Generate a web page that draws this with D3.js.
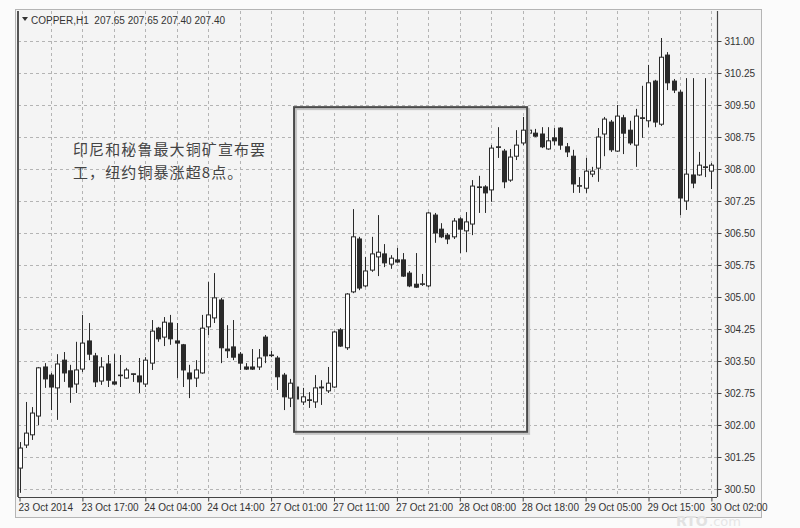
<!DOCTYPE html>
<html><head><meta charset="utf-8">
<script src="https://cdn.jsdelivr.net/npm/d3@7"></script>
<style>body{margin:0;background:#fbfbfb}svg{display:block}</style>
</head><body><svg id="c" width="800" height="528"></svg>
<script>
// ---- data (hourly COPPER candles) ----
const opens  = [300.99,301.53,301.77,302.21,303.36,303.17,302.87,303.52,303.27,302.96,
                303.31,303.97,303.62,303.03,303.43,303.01,303.17,303.10,303.20,303.15,
                302.96,303.45,304.27,304.06,304.39,303.97,303.88,303.22,303.10,303.22,
                304.30,304.51,304.93,303.78,303.83,303.66,303.36,303.36,303.36,304.06,
                303.64,303.57,303.17,302.63,302.89,302.54,302.59,302.54,302.89,302.80,
                302.89,304.23,303.81,305.12,306.36,305.26,305.63,305.94,306.01,305.77,
                305.87,305.87,305.56,305.30,305.30,305.26,306.92,306.59,306.45,306.41,
                306.83,306.55,306.71,307.58,307.58,307.51,308.52,308.42,307.74,308.30,
                308.61,308.84,308.84,308.82,308.47,308.73,308.96,308.52,308.30,307.60,
                307.55,307.88,308.02,308.82,309.10,308.42,309.20,308.91,308.56,309.20,
                309.13,310.06,309.05,310.67,310.06,309.80,307.25,307.86,307.86,308.05,307.95];
const highs  = [301.60,302.54,302.42,303.36,303.45,303.22,303.66,303.71,303.41,303.95,
                304.58,304.39,303.69,303.59,303.64,303.66,303.64,303.34,303.20,303.57,
                303.59,304.46,304.30,304.53,304.58,304.39,303.90,303.41,303.52,304.58,
                305.35,305.56,304.98,304.34,304.46,303.71,303.45,303.78,303.78,304.11,
                303.74,303.62,303.22,303.08,302.94,302.87,302.77,303.17,303.05,303.36,
                304.20,304.27,305.09,307.06,306.41,305.94,306.41,306.92,306.24,305.98,
                306.15,306.03,305.61,306.03,305.54,306.99,306.97,306.73,306.50,306.85,
                306.87,306.99,307.74,307.84,307.62,308.56,308.98,308.47,308.47,308.91,
                309.22,308.96,308.94,308.98,308.98,308.96,308.98,308.61,308.45,307.81,
                308.26,308.05,308.96,309.22,309.15,309.50,309.27,309.13,309.41,309.95,
                310.44,310.09,311.07,310.74,310.11,309.85,310.13,310.13,308.40,310.13,308.14];
const lows   = [300.41,301.46,301.65,302.00,302.87,302.35,302.12,303.01,302.52,302.75,
                303.24,303.52,302.89,302.94,302.89,302.94,302.89,303.08,303.01,302.75,
                302.89,303.29,303.95,303.85,303.88,303.10,302.89,302.63,302.89,303.20,
                304.11,304.39,303.45,303.57,303.52,303.29,303.29,303.29,303.29,303.45,
                303.59,302.82,302.35,302.42,302.31,302.47,302.40,302.40,302.47,302.75,
                302.87,303.83,303.76,305.09,305.16,305.23,305.59,305.49,305.70,305.66,
                305.80,305.47,305.23,305.21,305.26,305.23,306.27,306.38,306.24,306.36,
                306.03,306.05,306.45,306.97,306.97,307.23,308.26,307.55,307.70,308.21,
                308.56,308.77,308.75,308.49,308.45,308.56,308.45,308.28,307.44,307.44,
                307.44,307.81,307.70,308.30,308.40,308.40,308.35,308.56,308.05,308.73,
                308.98,308.98,309.01,309.85,309.78,306.92,307.04,307.55,307.84,307.81,307.53];
const closes = [301.46,301.81,302.28,303.34,303.08,302.89,303.43,303.22,302.89,303.29,
                303.92,303.66,303.01,303.36,303.05,302.96,303.16,303.29,303.19,303.01,
                303.52,304.20,304.02,304.41,304.02,303.92,303.29,303.08,303.29,304.27,
                304.58,304.98,303.81,303.74,303.59,303.45,303.31,303.31,303.57,303.62,
                303.63,303.13,302.66,302.98,302.61,302.66,302.58,302.87,302.87,302.98,
                304.18,303.85,305.07,306.41,305.21,305.61,306.01,306.05,305.80,305.91,
                305.82,305.49,305.26,305.23,305.31,306.97,306.50,306.41,306.36,306.78,
                306.59,306.76,307.60,307.57,307.44,308.49,308.51,307.70,308.28,308.56,
                308.91,308.91,308.77,308.52,308.66,308.66,308.56,308.40,307.65,307.61,
                307.95,307.95,308.75,309.17,308.45,309.24,308.84,308.61,309.24,309.19,
                310.02,309.10,310.62,310.02,309.85,307.32,307.88,307.67,308.09,308.04,308.09];
const xTickIndex  = [0,10,20,30,40,50,60,70,80,90,100,110];
const xTickLabels = ["23 Oct 2014","23 Oct 17:00","24 Oct 04:00","24 Oct 14:00","27 Oct 01:00",
                     "27 Oct 11:00","27 Oct 21:00","28 Oct 08:00","28 Oct 18:00","29 Oct 05:00",
                     "29 Oct 15:00","30 Oct 02:00"];
const yTicks = [300.50,301.25,302.00,302.75,303.50,304.25,305.00,305.75,306.50,307.25,308.00,308.75,309.50,310.25,311.00];
const titleText = "COPPER,H1  207.65 207.65 207.40 207.40";
const noteLines = ["印尼和秘鲁最大铜矿宣布罢","工，纽约铜暴涨超8点。"];
// highlighted box in data coordinates (bar index, price)
const boxBars   = [43.65, 80.7];
const boxPrices = [301.84, 309.45];

// ---- drawing ----
const svg = d3.select("#c");
const font = "'Liberation Sans', Arial, sans-serif";
const plotL = 18, plotR = 717, plotT = 11, plotB = 497;

const x = d3.scaleLinear().domain([0,110]).range([19.5, 19.5 + 110*6.29]);
const y = d3.scaleLinear().domain([300.5, 311]).range([489, 41]);

// window
svg.append("rect").attr("x",15.5).attr("y",9.5).attr("width",746).attr("height",508)
  .attr("fill","#f4f4f4").attr("stroke","#b5b5b5");

// grid
const g = svg.append("g").attr("stroke","#b4b4b4").attr("stroke-dasharray","3,3").attr("stroke-width",1);
g.selectAll("line.v").data(d3.range(5,111,5)).join("line")
  .attr("x1",d=>Math.round(x(d))+0.5).attr("x2",d=>Math.round(x(d))+0.5)
  .attr("y1",plotT).attr("y2",plotB);
g.selectAll("line.h").data(yTicks).join("line")
  .attr("x1",plotL).attr("x2",plotR)
  .attr("y1",d=>Math.round(y(d))+0.5).attr("y2",d=>Math.round(y(d))+0.5);

// frame lines
svg.append("line").attr("x1",plotL).attr("x2",plotL).attr("y1",plotT).attr("y2",plotB)
  .attr("stroke","#555").attr("stroke-width",2);
svg.append("line").attr("x1",plotR+0.5).attr("x2",plotR+0.5).attr("y1",plotT).attr("y2",plotB)
  .attr("stroke","#444").attr("stroke-width",1.2);
svg.append("line").attr("x1",plotL).attr("x2",plotR).attr("y1",plotB+0.5).attr("y2",plotB+0.5)
  .attr("stroke","#444").attr("stroke-width",1.2);

// watermark (drawn beneath the axis labels, kept clear of them)
svg.append("text").attr("x",676).attr("y",526).attr("font-family","'DejaVu Sans', sans-serif")
  .attr("font-weight","bold").attr("font-size",14).attr("fill","#e2e2e2").text("RTO");
svg.append("text").attr("x",709).attr("y",526).attr("font-family","'DejaVu Sans', sans-serif")
  .attr("font-size",13).attr("fill","#e6e6e6").text(".com");

// axes
const ay = svg.append("g").attr("transform",`translate(${plotR+0.5},0)`)
  .call(d3.axisRight(y).tickValues(yTicks).tickFormat(d3.format(".2f")).tickSize(4).tickPadding(3));
ay.select(".domain").remove();
ay.selectAll("line").attr("stroke","#444");
ay.selectAll("text").attr("font-family",font).attr("font-size",10).attr("fill","#333");

const ax = svg.append("g").attr("transform",`translate(0,${plotB+0.5})`)
  .call(d3.axisBottom(x).tickValues(xTickIndex).tickFormat((d,i)=>xTickLabels[i]).tickSize(4).tickPadding(2));
ax.select(".domain").remove();
ax.selectAll("line").attr("stroke","#444");
ax.selectAll("text").attr("font-family",font).attr("font-size",10).attr("fill","#333")
  .attr("text-anchor","start").attr("dx",-1.5);

// candles
const data = opens.map((o,i)=>({i,o,h:highs[i],l:lows[i],c:closes[i]}));
const cg = svg.append("g");
const cx = d=>Math.round(x(d.i))+0.5;
cg.selectAll("line").data(data).join("line")
  .attr("x1",cx).attr("x2",cx).attr("y1",d=>y(d.h)).attr("y2",d=>y(d.l))
  .attr("stroke","#2a2a2a").attr("stroke-width",1);
cg.selectAll("rect").data(data).join("rect")
  .attr("x",d=>cx(d)-2).attr("width",4)
  .attr("y",d=>y(Math.max(d.o,d.c)))
  .attr("height",d=>Math.max(0.6,Math.abs(y(d.o)-y(d.c))))
  .attr("fill",d=>d.c>=d.o ? "#ffffff" : "#2a2a2a")
  .attr("stroke","#2a2a2a").attr("stroke-width",1);

// highlight box
const bx = x(boxBars[0]), bw = x(boxBars[1]) - x(boxBars[0]);
const by = y(boxPrices[1]), bh = y(boxPrices[0]) - y(boxPrices[1]);
svg.append("rect").attr("x",bx+2).attr("y",by+2).attr("width",bw).attr("height",bh)
  .attr("fill","none").attr("stroke","#c4c4c4").attr("stroke-width",2);
svg.append("rect").attr("x",bx).attr("y",by).attr("width",bw).attr("height",bh)
  .attr("fill","none").attr("stroke","#4a4a4a").attr("stroke-width",2);

// title
svg.append("path").attr("d","M22,17 L28,17 L25,21 Z").attr("fill","#333");
svg.append("text").attr("x",31).attr("y",23.5).attr("font-family",font).attr("font-size",10)
  .attr("fill","#333").attr("xml:space","preserve").style("white-space","pre").text(titleText);

// note
svg.append("g").selectAll("text").data(noteLines).join("text")
  .attr("x",73).attr("y",(d,i)=>155+i*22.5)
  .attr("font-family","'Noto Sans CJK SC', sans-serif").attr("font-size",15)
  .attr("letter-spacing",1.1)
  .attr("fill","#444").text(d=>d);
</script></body></html>
